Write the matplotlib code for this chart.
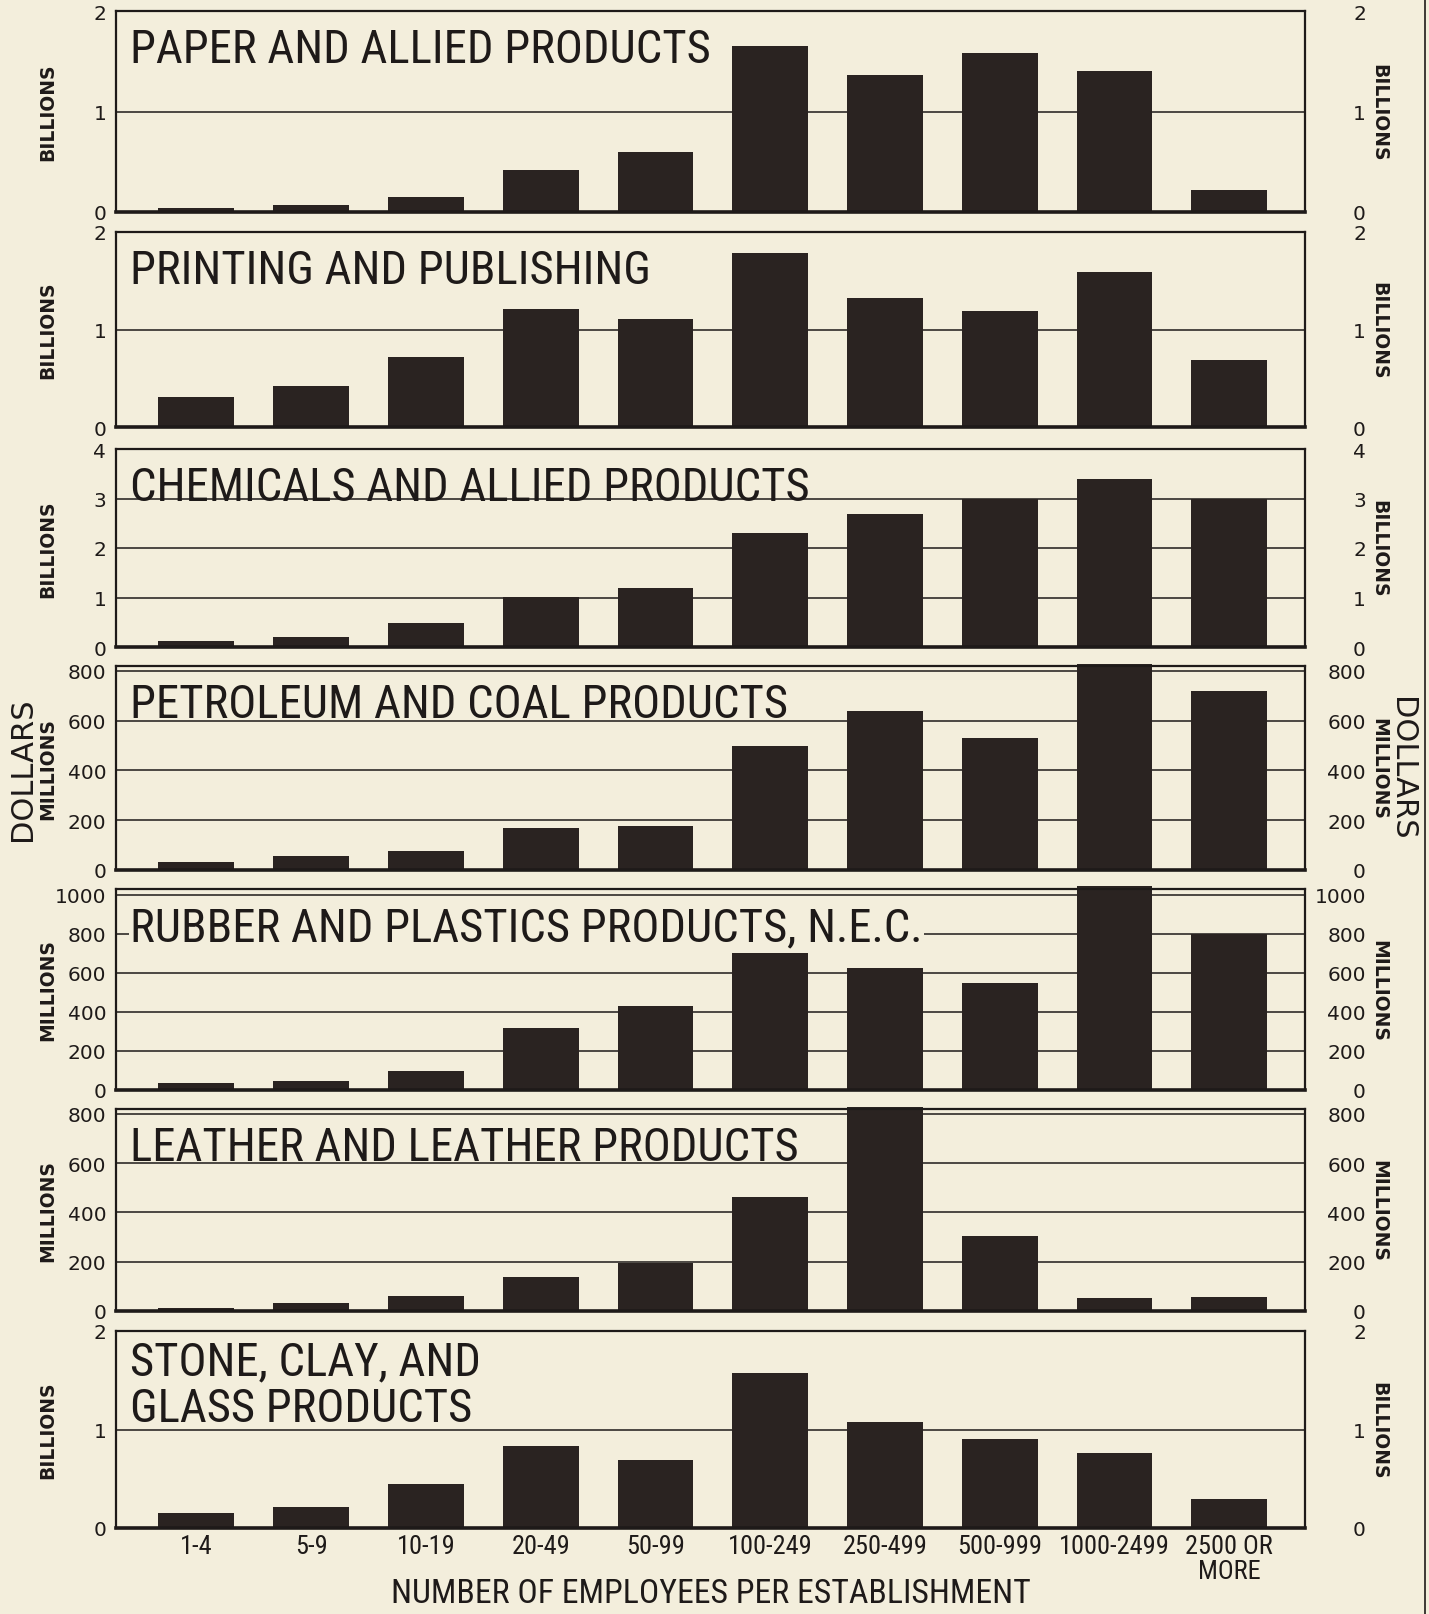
import matplotlib
matplotlib.use("Agg")
import matplotlib.pyplot as plt
from matplotlib.lines import Line2D
from matplotlib.transforms import ScaledTranslation

# Value of shipments by establishment size, seven industry groups
categories = ["1-4", "5-9", "10-19", "20-49", "50-99", "100-249",
              "250-499", "500-999", "1000-2499", "2500 OR\nMORE"]

titles = [
    "PAPER AND ALLIED PRODUCTS",
    "PRINTING AND PUBLISHING",
    "CHEMICALS AND ALLIED PRODUCTS",
    "PETROLEUM AND COAL PRODUCTS",
    "RUBBER AND PLASTICS PRODUCTS, N.E.C.",
    "LEATHER AND LEATHER PRODUCTS",
    "STONE, CLAY, AND\nGLASS PRODUCTS",
]

paper = [0.04, 0.07, 0.15, 0.42, 0.60, 1.65, 1.36, 1.58, 1.40, 0.22]           # billions
printing = [0.31, 0.42, 0.72, 1.21, 1.11, 1.78, 1.32, 1.19, 1.59, 0.69]        # billions
chemicals = [0.12, 0.20, 0.48, 1.02, 1.19, 2.30, 2.68, 3.00, 3.40, 3.00]       # billions
petroleum = [34, 55, 76, 168, 177, 497, 640, 530, 828, 720]                    # millions
rubber = [38, 48, 97, 317, 430, 704, 624, 548, 1045, 800]                      # millions
leather = [13, 34, 60, 136, 196, 464, 828, 306, 51, 55]                        # millions
stone = [0.15, 0.21, 0.45, 0.83, 0.69, 1.57, 1.08, 0.90, 0.76, 0.29]           # billions

series = [paper, printing, chemicals, petroleum, rubber, leather, stone]
units = ["BILLIONS", "BILLIONS", "BILLIONS", "MILLIONS", "MILLIONS", "MILLIONS", "BILLIONS"]
y_ticks = [
    [0, 1, 2],
    [0, 1, 2],
    [0, 1, 2, 3, 4],
    [0, 200, 400, 600, 800],
    [0, 200, 400, 600, 800, 1000],
    [0, 200, 400, 600, 800],
    [0, 1, 2],
]
y_tops = [2, 2, 4, 820, 1030, 820, 2]

BG = "#f3eedc"
INK = "#2a2321"
TEXT = "#1e1a19"
NARROW = ["Roboto Condensed", "DejaVu Sans"]
WIDE = "DejaVu Sans"

W, H = 1429, 1615
fig = plt.figure(figsize=(W / 100, H / 100), dpi=100, facecolor=BG)

# panel frames in pixels (top, bottom)
panel_px = [(12, 213), (233, 428), (450, 648), (667, 871),
            (890, 1091), (1110, 1312), (1332, 1529)]
x0, x1 = 116, 1305
right_shift = ScaledTranslation(61 / 100, 0, fig.dpi_scale_trans)

for i, (top, bot) in enumerate(panel_px):
    ax = fig.add_axes([x0 / W, 1 - bot / H, (x1 - x0) / W, (bot - top) / H])
    ax.set_facecolor(BG)
    ax.bar(range(len(categories)), series[i], width=0.66, color=INK,
           zorder=2, clip_on=False)
    ax.set_xlim(-0.7, len(categories) - 0.34)
    ax.set_ylim(0, y_tops[i])

    # horizontal rules at the inner ticks, behind the bars
    for t in y_ticks[i]:
        if 0 < t < y_tops[i]:
            ax.axhline(t, color=TEXT, lw=1.1, zorder=1)

    for s in ax.spines.values():
        s.set_linewidth(1.6)
        s.set_color(TEXT)
        s.set_zorder(3)
    ax.spines["bottom"].set_linewidth(2.6)

    ax.set_yticks(y_ticks[i])
    ax.tick_params(axis="y", length=0, pad=7, labelleft=True, labelright=True,
                   labelsize=14.5, labelcolor=TEXT)
    for tk in ax.yaxis.get_major_ticks():
        tk.label1.set_fontfamily(WIDE)
        tk.label2.set_fontfamily(WIDE)
        # right-hand numbers are right aligned, clear of the frame
        tk.label2.set_horizontalalignment("right")
        tk.label2.set_transform(ax.get_yaxis_transform(which="tick2") + right_shift)

    if i == len(panel_px) - 1:
        ax.set_xticks(range(len(categories)))
        ax.set_xticklabels(categories, fontsize=19, family=NARROW, color=TEXT)
        ax.tick_params(axis="x", length=0, pad=4)
        ax.get_xticklabels()[-1].set_linespacing(1.05)
    else:
        ax.set_xticks([])

    # industry name inside the panel; baseline of the last line
    n_lines = titles[i].count("\n") + 1
    base = 51 + 39 * (n_lines - 1)
    bbox = dict(facecolor=BG, edgecolor="none", pad=1) if i == 4 else None
    ax.annotate(titles[i], xy=(0, 1), xycoords="axes fraction",
                xytext=(14, -base), textcoords="offset pixels",
                ha="left", va="baseline", fontsize=33.6, family=NARROW,
                color=TEXT, zorder=4, linespacing=1.08, bbox=bbox)

    # unit labels on both sides
    yc = 1 - (top + bot) / 2 / H
    fig.text(48 / W, yc, units[i], rotation=90, ha="center", va="center",
             fontsize=13.5, fontweight="bold", color=TEXT, family=WIDE)
    fig.text(1379 / W, yc, units[i], rotation=270, ha="center", va="center",
             fontsize=13.5, fontweight="bold", color=TEXT, family=WIDE)
    if i == 3:
        fig.text(23 / W, yc, "DOLLARS", rotation=90, ha="center", va="center",
                 fontsize=22, color=TEXT, family=WIDE)
        fig.text(1401 / W, yc, "DOLLARS", rotation=270, ha="center", va="center",
                 fontsize=22, color=TEXT, family=WIDE)

fig.text((x0 + x1) / 2 / W, 1 - 1594 / H, "NUMBER OF EMPLOYEES PER ESTABLISHMENT",
         ha="center", va="center", fontsize=24.3, family=NARROW, color=TEXT)

# page edge rule on the right
fig.add_artist(Line2D([1425 / W, 1425 / W], [0, 1], transform=fig.transFigure,
                      color=TEXT, lw=1.2))

fig.savefig("out.png", dpi=100, facecolor=BG)
